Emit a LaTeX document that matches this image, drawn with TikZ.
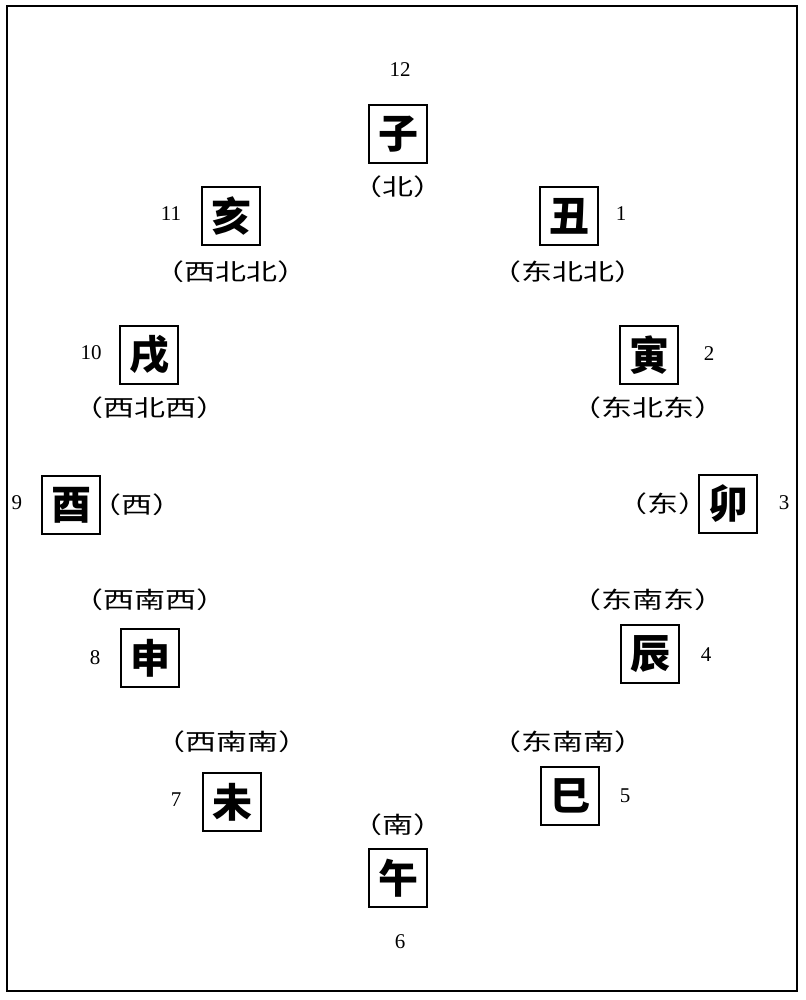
\documentclass[tikz,border=0pt]{standalone}
\usepackage{fontspec}
\newfontfamily\cjk{Noto Sans CJK SC}
\newfontfamily\cjkwide{Noto Sans CJK SC}[FakeStretch=1.35]
\newfontfamily\numfont{Liberation Serif}
\begin{document}
\begin{tikzpicture}[x=1pt,y=-1pt,
  branch/.style={draw,line width=1.8pt,minimum size=58pt,inner sep=0pt,font=\cjk\bfseries\fontsize{40}{42}\selectfont},
  dir/.style={inner sep=0pt,font=\cjkwide\fontsize{23}{25}\selectfont},
  hour/.style={inner sep=0pt,font=\numfont\fontsize{21}{23}\selectfont}]
  \useasboundingbox (0,0) rectangle (805,1000);
  \draw[line width=2.6pt] (7,6) rectangle (797,991);

  \node[branch] (zi)   at (398,134) {子};
  \node[branch] (chou) at (569,216) {丑};
  \node[branch] (yin)  at (649,355) {寅};
  \node[branch] (mao)  at (728,504) {卯};
  \node[branch] (chen) at (650,654) {辰};
  \node[branch] (si)   at (570,796) {巳};
  \node[branch] (wu)   at (398,878) {午};
  \node[branch] (wei)  at (232,802) {未};
  \node[branch] (shen) at (150,658) {申};
  \node[branch] (you)  at (71,505)  {酉};
  \node[branch] (xu)   at (149,355) {戌};
  \node[branch] (hai)  at (231,216) {亥};

  \node[dir] (zi-d)   at (398,187) {（北）};
  \node[dir] (chou-d) at (568,272) {（东北北）};
  \node[dir] (yin-d)  at (648,408) {（东北东）};
  \node[dir] (mao-d)  at (663,504) {（东）};
  \node[dir] (chen-d) at (648,600) {（东南东）};
  \node[dir] (si-d)   at (568,742) {（东南南）};
  \node[dir] (wu-d)   at (398,825) {（南）};
  \node[dir] (wei-d)  at (232,742) {（西南南）};
  \node[dir] (shen-d) at (150,600) {（西南西）};
  \node[dir] (you-d)  at (137,505) {（西）};
  \node[dir] (xu-d)   at (150,408) {（西北西）};
  \node[dir] (hai-d)  at (231,272) {（西北北）};

  \node[hour] (h12) at (400,70)  {12};
  \node[hour] (h1)  at (621,214) {1};
  \node[hour] (h2)  at (709,354) {2};
  \node[hour] (h3)  at (784,503) {3};
  \node[hour] (h4)  at (706,655) {4};
  \node[hour] (h5)  at (625,796) {5};
  \node[hour] (h6)  at (400,942) {6};
  \node[hour] (h7)  at (176,800) {7};
  \node[hour] (h8)  at (95,658)  {8};
  \node[hour] (h9)  at (17,503)  {9};
  \node[hour] (h10) at (91,353)  {10};
  \node[hour] (h11) at (171,214) {11};
\end{tikzpicture}
\end{document}
